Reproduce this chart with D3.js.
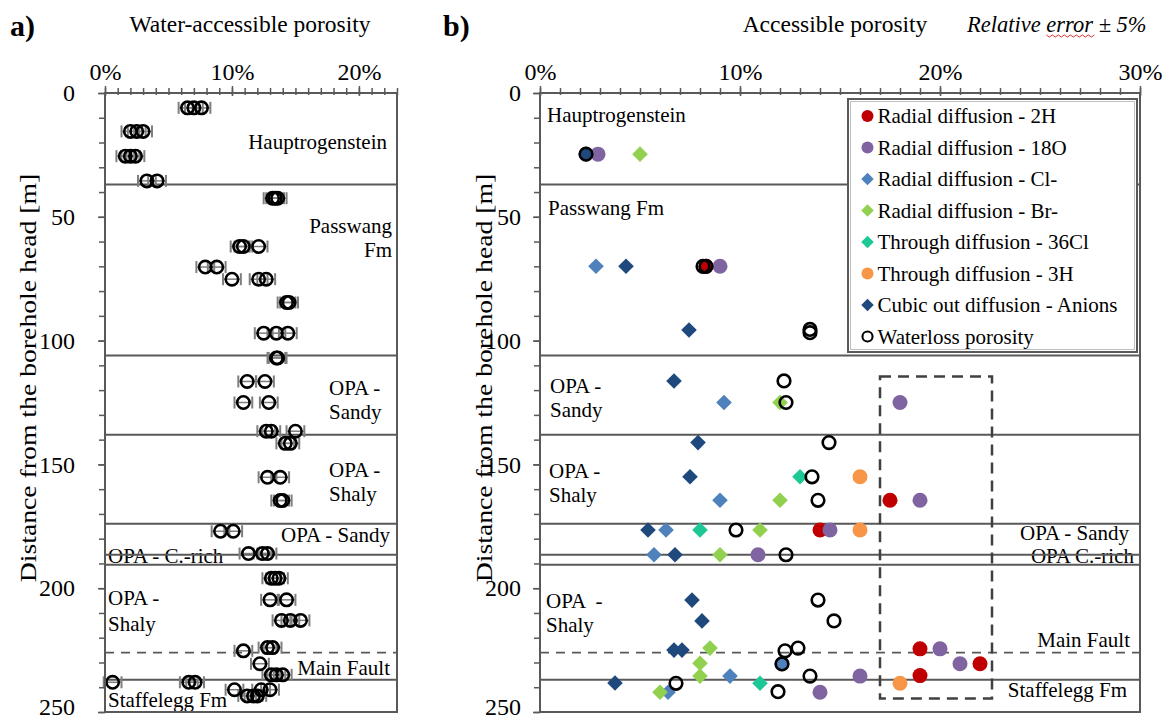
<!DOCTYPE html>
<html><head><meta charset="utf-8">
<script src="https://cdn.jsdelivr.net/npm/d3@7"></script>
<style>
body{margin:0;background:#fff;}
svg text{font-family:"Liberation Serif","Times New Roman",serif;fill:#000;}
</style></head><body>
<svg id="chart" width="1168" height="722"></svg>
<script>
// ---------- data ----------
// formation boundaries (m) and the main fault
const boundaries = [37, 106, 138, 174, 186.5, 190.5, 237];
const faultDepth = [226];

// a) water-accessible porosity (waterloss), depth [m] / porosity [%]
const wlDepthA = [6, 6, 6, 15.5, 15.5, 15.5, 25.5, 25.5, 25.5, 35.5, 35.5,
  42.5, 42.5, 42.5, 62, 62, 62, 70.3, 70.3, 75.2, 75.2, 75.2, 84.6, 84.6,
  97, 97, 97, 107, 107, 116.5, 116.5, 125, 125, 136.6, 136.6, 136.6, 141.5, 141.5,
  155.2, 155.2, 164.6, 164.6, 177, 177, 186, 186, 186, 196, 196, 196,
  204.7, 204.7, 213, 213, 213, 224, 224, 225.3, 230.5, 235, 235, 235,
  238, 238, 238, 241, 241, 241, 243.5, 243.5, 243.5];
const wlPorA = [6.5, 7.0, 7.6, 2.0, 2.5, 3.0, 1.6, 2.0, 2.4, 3.3, 4.1,
  13.2, 13.4, 13.6, 10.6, 10.9, 12.1, 7.9, 8.8, 10.0, 12.1, 12.7, 14.3, 14.5,
  12.5, 13.5, 14.4, 13.5, 13.6, 11.2, 12.6, 10.9, 12.9, 12.7, 13.1, 15.0, 14.2, 14.6,
  12.8, 13.8, 13.8, 14.0, 9.1, 10.1, 11.3, 12.4, 12.8, 13.1, 13.4, 13.7,
  13.0, 14.3, 13.9, 14.6, 15.4, 12.8, 13.2, 10.9, 12.2, 13.1, 13.5, 14.0,
  0.6, 6.6, 7.1, 10.2, 12.3, 13.0, 11.2, 11.7, 12.0];
const wlErrA = 0.7;   // absolute error [%]

// b) accessible porosity by method
const h2Depth = [70, 164.5, 176.5, 224.5, 230.5, 235.3];
const h2Por = [8.3, 17.5, 14.0, 19.0, 22.0, 19.0];
const o18Depth = [24.7, 70, 125, 164.5, 176.5, 186.5, 224.5, 230.5, 235.5, 242];
const o18Por = [2.9, 9.0, 18.0, 19.0, 14.5, 10.9, 20.0, 21.0, 16.0, 14.0];
const clDepth = [70, 125, 164.5, 176.5, 186.5, 230.6, 235.5, 242];
const clPor = [2.8, 9.2, 9.0, 6.3, 5.7, 12.1, 9.5, 6.4];
const brDepth = [24.7, 125, 164.5, 176.5, 186.5, 224.2, 230.3, 235.5, 242];
const brPor = [5.0, 12.0, 12.0, 11.0, 9.0, 8.5, 8.0, 8.0, 6.0];
const cl36Depth = [155, 176.5, 238.4];
const cl36Por = [13.0, 8.0, 11.0];
const h3Depth = [155, 176.5, 238.4];
const h3Por = [16.0, 16.0, 18.0];
const anDepth = [24.7, 70, 95.7, 116.3, 141.2, 155, 176.5, 186.5, 204.8, 213.2, 225, 225, 238.3];
const anPor = [2.3, 4.3, 7.45, 6.7, 7.9, 7.5, 5.4, 6.75, 7.6, 8.1, 6.7, 7.1, 3.75];
const wlDepthB = [24.7, 70, 70, 95.5, 96.8, 116.3, 125, 141.2, 155, 164.5, 176.5, 186.5,
  204.8, 213.2, 224.2, 225.3, 230.6, 235.5, 238.4, 241.8];
const wlPorB = [2.3, 8.15, 8.3, 13.5, 13.5, 12.2, 12.3, 14.45, 13.6, 13.9, 9.8, 12.3,
  13.9, 14.7, 12.9, 12.25, 12.1, 13.5, 6.8, 11.9];

const seriesNames = ["Radial diffusion - 2H", "Radial diffusion - 18O", "Radial diffusion - Cl-",
  "Radial diffusion - Br-", "Through diffusion - 36Cl", "Through diffusion - 3H",
  "Cubic out diffusion - Anions", "Waterloss porosity"];

// highlighted region (porosity %, depth m)
const boxPor = [17, 22.6];
const boxDepth = [114.5, 244.5];

const ticksA = [0, 10, 20];
const ticksB = [0, 10, 20, 30];
const depthTicks = [0, 50, 100, 150, 200, 250];

// ---------- drawing ----------
const svg = d3.select("#chart");
const axisCol = "#595959";

const seriesB = [
  {name: seriesNames[0], d: h2Depth, v: h2Por, shape: "circle", color: "#c00000"},
  {name: seriesNames[1], d: o18Depth, v: o18Por, shape: "circle", color: "#8064a2"},
  {name: seriesNames[2], d: clDepth, v: clPor, shape: "diamond", color: "#4f81bd"},
  {name: seriesNames[3], d: brDepth, v: brPor, shape: "diamond", color: "#92d050"},
  {name: seriesNames[4], d: cl36Depth, v: cl36Por, shape: "diamond", color: "#1ec896"},
  {name: seriesNames[5], d: h3Depth, v: h3Por, shape: "circle", color: "#f79646"},
  {name: seriesNames[6], d: anDepth, v: anPor, shape: "diamond", color: "#1f497d"},
  {name: seriesNames[7], d: wlDepthB, v: wlPorB, shape: "open", color: "#000"}
];

function panel(xMax, xRange) {
  const x = d3.scaleLinear([0, xMax], xRange);
  const y = d3.scaleLinear([0, 250], [93, 712]);
  return {x, y};
}

function drawFrame(p, ticks, xMax, labelOffset) {
  const {x, y} = p;
  const g = svg.append("g");
  // minor ticks
  g.append("g").attr("transform", `translate(0,${y(0)})`)
    .call(d3.axisTop(x).tickValues(d3.range(0, xMax + 0.001, 1)).tickSizeInner(5).tickSizeOuter(0).tickFormat(""))
    .call(s => s.select(".domain").remove())
    .selectAll("line").attr("stroke", axisCol).attr("stroke-width", 1.5).attr("y2", -5).attr("y1", 2);
  g.append("g").attr("transform", `translate(${x(0)},0)`)
    .call(d3.axisLeft(y).tickValues(d3.range(0, 251, 10)).tickSizeInner(6).tickSizeOuter(0).tickFormat(""))
    .call(s => s.select(".domain").remove())
    .selectAll("line").attr("stroke", axisCol).attr("stroke-width", 1.5);
  // major ticks + labels
  const ax = g.append("g").attr("transform", `translate(0,${y(0)})`)
    .call(d3.axisTop(x).tickValues(ticks).tickSizeInner(7).tickSizeOuter(0).tickPadding(6).tickFormat(d => d + "%"));
  ax.select(".domain").remove();
  ax.selectAll("line").attr("stroke", axisCol).attr("stroke-width", 1.5).attr("y1", 3);
  ax.selectAll("text").attr("font-size", 24).attr("font-family", "Liberation Serif").attr("fill", "#000");
  const ay = g.append("g").attr("transform", `translate(${x(0)},0)`)
    .call(d3.axisLeft(y).tickValues(depthTicks).tickSizeInner(7).tickSizeOuter(0).tickPadding(labelOffset));
  ay.select(".domain").remove();
  ay.selectAll("line").attr("stroke", axisCol).attr("stroke-width", 1.5);
  ay.selectAll("text").attr("font-size", 24).attr("font-family", "Liberation Serif").attr("fill", "#000")
    .attr("dy", d => d === 250 ? "0.12em" : "0.32em");
}

function drawBoundaries(g, p) {
  const {x, y} = p;
  const [x0, x1] = x.range();
  g.selectAll("line.bnd").data(boundaries).join("line").attr("class", "bnd")
    .attr("x1", x0).attr("x2", x1).attr("y1", d => y(d)).attr("y2", d => y(d))
    .attr("stroke", axisCol).attr("stroke-width", 2);
  g.selectAll("line.flt").data(faultDepth).join("line").attr("class", "flt")
    .attr("x1", x0).attr("x2", x1).attr("y1", d => y(d)).attr("y2", d => y(d))
    .attr("stroke", axisCol).attr("stroke-width", 1.8).attr("stroke-dasharray", "9,7");
}

function drawBorder(p) {
  const {x, y} = p;
  svg.append("rect").attr("x", x.range()[0]).attr("y", y(0))
    .attr("width", x.range()[1] - x.range()[0]).attr("height", y(250) - y(0))
    .attr("fill", "none").attr("stroke", axisCol).attr("stroke-width", 2);
}

function labels(g, list, size) {
  g.selectAll(null).data(list).join("text")
    .attr("x", d => d[1]).attr("y", d => d[2])
    .attr("text-anchor", d => d[3] || "start")
    .attr("font-size", size).style("white-space", "pre").text(d => d[0]);
}

// ---------- panel a ----------
const pA = panel(23, [105, 397]);
const gA = svg.append("g");
labels(gA, [
  ["Hauptrogenstein", 387, 149, "end"],
  ["Passwang", 392, 233, "end"],
  ["Fm", 392, 257, "end"],
  ["OPA -", 329, 395], ["Sandy", 329, 419],
  ["OPA -", 329, 477], ["Shaly", 329, 501],
  ["OPA - Sandy", 390, 542, "end"],
  ["OPA - C.-rich", 108, 563],
  ["OPA -", 108, 605], ["Shaly", 108, 631],
  ["Main Fault", 390, 675, "end"],
  ["Staffelegg Fm", 108, 707]
], 21);
drawBoundaries(gA, pA);

// error bars + markers
const ptsA = wlDepthA.map((d, i) => ({d, v: wlPorA[i]}));
const eb = gA.append("g").attr("stroke", "#7f7f7f");
eb.selectAll("line.bar").data(ptsA).join("line").attr("class", "bar")
  .attr("x1", d => pA.x(d.v - wlErrA)).attr("x2", d => pA.x(d.v + wlErrA))
  .attr("y1", d => pA.y(d.d)).attr("y2", d => pA.y(d.d)).attr("stroke-width", 1.5);
eb.selectAll("line.capl").data(ptsA).join("line").attr("class", "capl")
  .attr("x1", d => pA.x(d.v - wlErrA)).attr("x2", d => pA.x(d.v - wlErrA))
  .attr("y1", d => pA.y(d.d) - 6).attr("y2", d => pA.y(d.d) + 6).attr("stroke-width", 2);
eb.selectAll("line.capr").data(ptsA).join("line").attr("class", "capr")
  .attr("x1", d => pA.x(d.v + wlErrA)).attr("x2", d => pA.x(d.v + wlErrA))
  .attr("y1", d => pA.y(d.d) - 6).attr("y2", d => pA.y(d.d) + 6).attr("stroke-width", 2);
gA.selectAll("circle.wl").data(ptsA).join("circle").attr("class", "wl")
  .attr("cx", d => pA.x(d.v)).attr("cy", d => pA.y(d.d)).attr("r", 6.2)
  .attr("fill", "none").attr("stroke", "#000").attr("stroke-width", 2.6);
drawBorder(pA);
drawFrame(pA, ticksA, 23, 23);

// ---------- panel b ----------
const pB = panel(30, [540, 1140]);
const gB = svg.append("g");
labels(gB, [
  ["Hauptrogenstein", 547, 122],
  ["Passwang Fm", 548, 215],
  ["OPA -", 550, 393], ["Sandy", 550, 417],
  ["OPA -", 549, 478], ["Shaly", 549, 502],
  ["OPA - Sandy", 1129, 540, "end"],
  ["OPA C.-rich", 1134, 563, "end"],
  ["OPA  -", 546, 608], ["Shaly", 546, 632],
  ["Main Fault", 1130, 647, "end"],
  ["Staffelegg Fm", 1127, 697, "end"]
], 21);
drawBoundaries(gB, pB);

// highlighted region
gB.append("rect")
  .attr("x", pB.x(boxPor[0])).attr("y", pB.y(boxDepth[0]))
  .attr("width", pB.x(boxPor[1]) - pB.x(boxPor[0])).attr("height", pB.y(boxDepth[1]) - pB.y(boxDepth[0]))
  .attr("fill", "none").attr("stroke", "#404040").attr("stroke-width", 2.5).attr("stroke-dasharray", "11,7");

const diamond = s => `M0,${-s}L${s},0L0,${s}L${-s},0Z`;
function marker(sel, shape, color, scale) {
  if (shape === "circle") {
    sel.append("circle").attr("r", 7.5 * scale).attr("fill", color);
  } else if (shape === "diamond") {
    sel.append("path").attr("d", diamond(7.8 * scale)).attr("fill", color);
  } else {
    sel.append("circle").attr("r", 6.3 * scale).attr("fill", "none").attr("stroke", "#000").attr("stroke-width", 2.6 * scale);
  }
}
seriesB.forEach(s => {
  const pts = s.d.map((d, i) => ({d, v: s.v[i]}));
  gB.append("g").selectAll("g").data(pts).join("g")
    .attr("transform", d => `translate(${pB.x(d.v)},${pB.y(d.d)})`)
    .each(function() { marker(d3.select(this), s.shape, s.color, 1); });
});

// legend
const lg = svg.append("g");
lg.append("rect").attr("x", 848).attr("y", 99).attr("width", 289).attr("height", 253)
  .attr("fill", "#fff").attr("stroke", axisCol).attr("stroke-width", 2);
lg.append("rect").attr("x", 850.5).attr("y", 101.5).attr("width", 284).attr("height", 248)
  .attr("fill", "none").attr("stroke", "#bfbfbf").attr("stroke-width", 1);
const rows = lg.selectAll("g.row").data(seriesB).join("g").attr("class", "row")
  .attr("transform", (d, i) => `translate(867.5,${116 + i * 31.5})`);
rows.each(function(d) { marker(d3.select(this), d.shape, d.color, 0.8); });
rows.append("text").attr("x", 10).attr("y", 7).attr("font-size", 21).text(d => d.name);

drawBorder(pB);
drawFrame(pB, ticksB, 30, 12);

// ---------- titles ----------
svg.append("text").attr("x", 10).attr("y", 36).attr("font-size", 30).attr("font-weight", "bold").text("a)");
svg.append("text").attr("x", 443).attr("y", 36).attr("font-size", 30).attr("font-weight", "bold").text("b)");
svg.append("text").attr("x", 250).attr("y", 32).attr("text-anchor", "middle").attr("font-size", 23.5).text("Water-accessible porosity");
svg.append("text").attr("x", 835).attr("y", 32).attr("text-anchor", "middle").attr("font-size", 23.5).text("Accessible porosity");
const relX = 967;
const rel = svg.append("text").attr("x", relX).attr("y", 32).attr("font-size", 22.5).attr("font-style", "italic")
  .text("Relative error \u00b1 5%");
const relNode = rel.node();
const ex0 = relX + relNode.getSubStringLength(0, 9);
const ew = relNode.getSubStringLength(9, 5);
let wave = `M${ex0},35`;
for (let k = 0; k * 3 < ew; k++) wave += `L${ex0 + (k + 1) * 3},${k % 2 ? 35 : 37}`;
svg.append("path").attr("d", wave).attr("fill", "none").attr("stroke", "#e03030").attr("stroke-width", 1);

[31, 487].forEach(cx => {
  svg.append("text").attr("transform", `translate(${cx},378) rotate(-90) scale(1.18,1)`)
    .attr("text-anchor", "middle").attr("dominant-baseline", "middle").attr("font-size", 23.5)
    .text("Distance from the borehole head [m]");
});
</script>
</body></html>
